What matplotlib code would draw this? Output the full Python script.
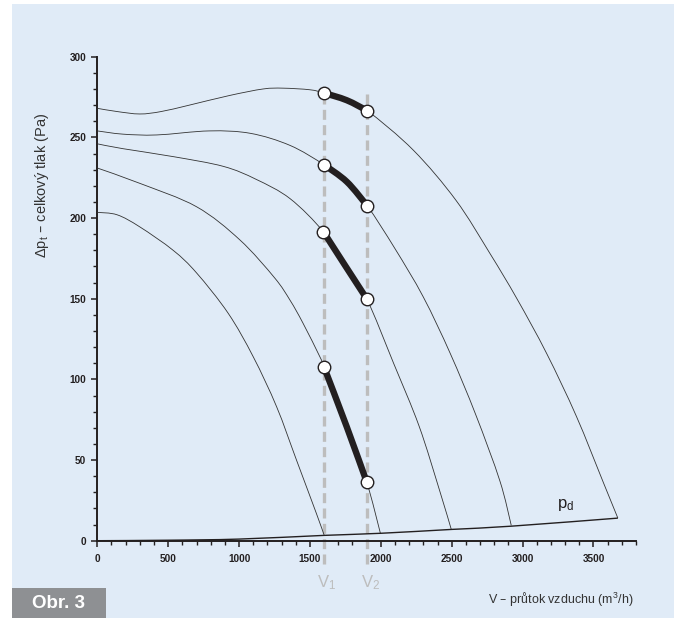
import matplotlib
matplotlib.use("Agg")
import numpy as np
import matplotlib.pyplot as plt
from matplotlib.patches import Rectangle, PathPatch
from matplotlib.path import Path
from matplotlib.ticker import MultipleLocator

plt.rcParams['font.family'] = ['Liberation Sans', 'DejaVu Sans']
plt.rcParams['mathtext.default'] = 'regular'

# --- fan curves (airflow m3/h, total pressure Pa) ---
curve1_x = [0, 140, 300, 450, 650, 935, 1170, 1310, 1500, 1600, 1760, 1905, 2230, 2530, 2770, 2960, 3170, 3380, 3570, 3672]
curve1_y = [268, 266, 264.5, 266, 270, 276, 280, 280.5, 279.5, 277.5, 273, 266.5, 242, 211, 178, 150, 116, 77, 36, 14]

curve2_x = [0, 180, 420, 790, 1080, 1360, 1600, 1760, 1905, 2100, 2300, 2490, 2670, 2840, 2920]
curve2_y = [254, 252, 251.5, 254, 252.5, 245, 233, 222.5, 207.5, 181, 151, 116, 78, 37, 9.5]

curve3_x = [0, 180, 540, 890, 1120, 1360, 1595, 1745, 1900, 2090, 2270, 2415, 2497]
curve3_y = [246, 243, 238, 232, 224, 212, 191.5, 171, 150, 110, 71, 31, 7]

curve4_x = [0, 300, 700, 1005, 1250, 1360, 1450, 1570, 1600, 1760, 1900, 1997]
curve4_y = [231, 221.5, 207, 186.5, 163, 149, 135, 114, 107.5, 70.5, 36.5, 4.6]

curve5_x = [0, 140, 300, 535, 700, 923, 1100, 1265, 1405, 1545, 1600]
curve5_y = [203.5, 202, 194.5, 180, 166, 141, 114, 83, 50, 17, 3.5]

# dynamic pressure line p_d
pd_x = [0, 500, 1000, 1600, 2000, 2500, 2920, 3672]
pd_y = [0, 0.3, 1.0, 3.3, 4.6, 7.0, 9.0, 14.0]

# working range between V1 and V2 (thick part of each curve)
V1 = 1600
V2 = 1905
work_x = [[1600, 1760, 1905], [1600, 1760, 1905], [1595, 1745, 1900], [1600, 1760, 1900]]
work_y = [[277.5, 273, 266.5], [233, 222.5, 207.5], [191.5, 171, 150], [107.5, 70.5, 36.5]]

x_ticks = [0, 500, 1000, 1500, 2000, 2500, 3000, 3500]
y_ticks = [0, 50, 100, 150, 200, 250, 300]

bg = '#e0ebf7'
ink = '#231f20'


def smooth_path(ax, xs, ys, **kw):
    # Catmull-Rom through the read points, drawn as cubic Bezier segments
    p = np.column_stack([xs, ys]).astype(float)
    # work in display space so the tangents are not skewed by axis scales
    d = ax.transData.transform(p)
    verts = [d[0]]
    codes = [Path.MOVETO]
    n = len(d)
    for i in range(n - 1):
        p0 = d[i - 1] if i > 0 else d[i]
        p1, p2 = d[i], d[i + 1]
        p3 = d[i + 2] if i + 2 < n else d[i + 1]
        verts += [p1 + (p2 - p0) / 6, p2 - (p3 - p1) / 6, p2]
        codes += [Path.CURVE4] * 3
    verts = ax.transData.inverted().transform(np.array(verts))
    patch = PathPatch(Path(verts, codes), facecolor='none', transform=ax.transData, **kw)
    ax.add_patch(patch)


fig = plt.figure(figsize=(6.79, 6.18), dpi=100)
fig.patch.set_facecolor('white')
fig.patches.append(Rectangle((12 / 679, 0), 662 / 679, 614 / 618, transform=fig.transFigure,
                             facecolor=bg, edgecolor='none', zorder=-2))
fig.patches.append(Rectangle((12 / 679, 0), 94 / 679, 30 / 618, transform=fig.transFigure,
                             facecolor='#8e9093', edgecolor='none', zorder=-1))
fig.text(59 / 679, 15 / 618, 'Obr. 3', color='white', fontsize=13.5, fontweight='bold',
         ha='center', va='center')

ax = fig.add_axes([97.3 / 679, (618 - 540.7) / 618, 538.7 / 679, 484 / 618])
ax.set_facecolor('none')
ax.set_xlim(0, 3800)
ax.set_ylim(0, 300)

for xs, ys in [(curve1_x, curve1_y), (curve2_x, curve2_y), (curve3_x, curve3_y),
               (curve4_x, curve4_y), (curve5_x, curve5_y)]:
    smooth_path(ax, xs, ys, edgecolor='#333333', lw=0.6, zorder=3)
smooth_path(ax, pd_x, pd_y, edgecolor=ink, lw=1.0, zorder=3)

# V1 / V2 dashed guides
for v, lab in [(V1, 'V$_1$'), (V2, 'V$_2$')]:
    ax.plot([v, v], [277, -16], color='#bdbdbd', lw=2.4, dashes=(3, 1.6), clip_on=False, zorder=2)
    ax.text(v + 20, -26, lab, color='#bdbdbd', fontsize=12, ha='center', va='center', clip_on=False)

for xs, ys in zip(work_x, work_y):
    smooth_path(ax, xs, ys, edgecolor=ink, lw=4.6, capstyle='butt', zorder=4)
    ax.plot([xs[0], xs[-1]], [ys[0], ys[-1]], ls='none', marker='o', ms=9,
            mfc='white', mec=ink, mew=1.0, zorder=5)

ax.text(3240, 22, 'p$_d$', fontsize=12, color=ink, ha='left', va='center')

ax.set_xticks(x_ticks)
ax.set_yticks(y_ticks)
ax.xaxis.set_minor_locator(MultipleLocator(100))
ax.yaxis.set_minor_locator(MultipleLocator(10))
ax.tick_params(which='major', length=4, width=1.1, color=ink, labelsize=7.2, labelcolor=ink)
ax.tick_params(which='minor', length=3, width=1.0, color=ink)
ax.tick_params(axis='x', which='major', pad=5.5)
ax.tick_params(axis='y', which='major', pad=4)
for lbl in ax.get_xticklabels() + ax.get_yticklabels():
    lbl.set_fontweight('bold')

for s in ['top', 'right']:
    ax.spines[s].set_visible(False)
for s in ['left', 'bottom']:
    ax.spines[s].set_linewidth(1.4)
    ax.spines[s].set_color(ink)

ax.text(-0.103, 0.733, '\u0394p$_t$ \u2013 celkov\u00fd tlak (Pa)', transform=ax.transAxes,
        rotation=90, fontsize=10.5, color='#333333', ha='center', va='center')
ax.text(0.996, -0.1225, 'V \u2013 pr\u016ftok vzduchu (m$^3$/h)', transform=ax.transAxes,
        fontsize=9, color='#333333', ha='right', va='center')

fig.savefig('out.png', dpi=100, facecolor=fig.get_facecolor())
